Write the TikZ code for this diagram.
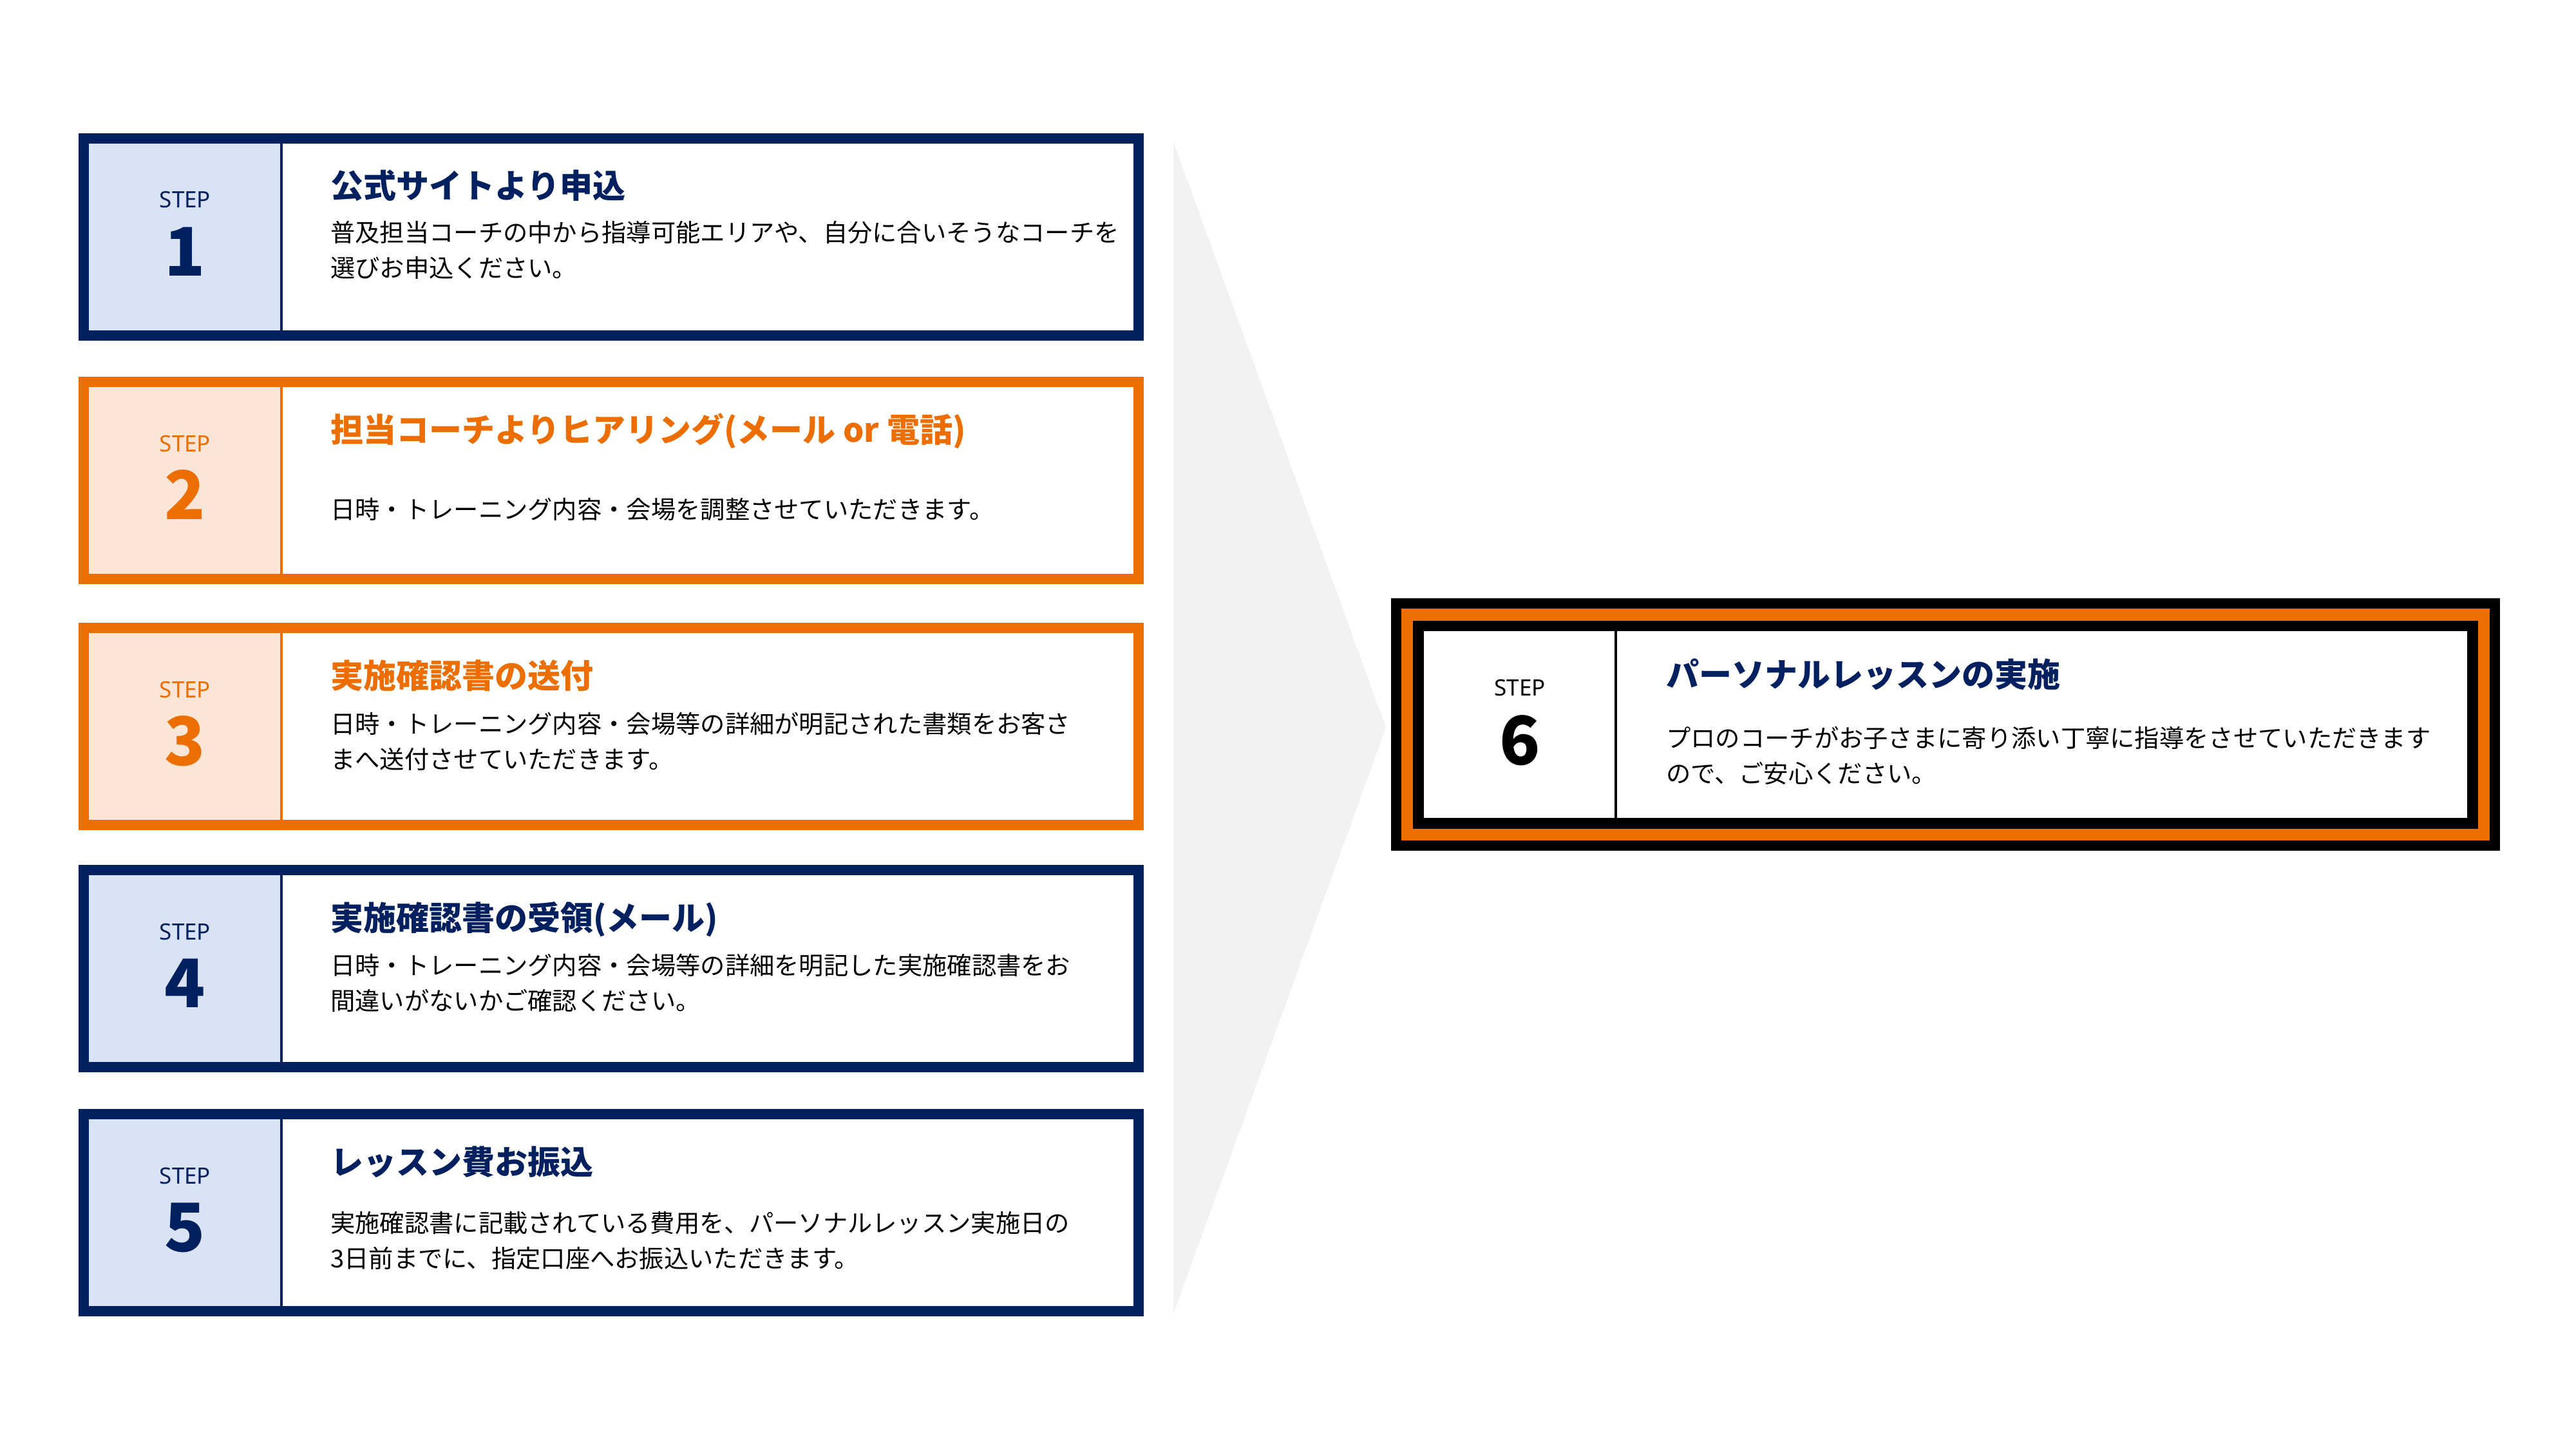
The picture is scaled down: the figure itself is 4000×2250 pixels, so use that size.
\documentclass[tikz,border=0pt]{standalone}
\usepackage{fontspec}
\setmainfont{Noto Sans CJK JP}
\newfontfamily\latinfont{Noto Sans}
\definecolor{navy}{RGB}{0,32,96}
\definecolor{lightblue}{RGB}{218,227,243}
\definecolor{orng}{RGB}{236,110,0}
\definecolor{lightorng}{RGB}{251,229,214}
\definecolor{chevgray}{RGB}{242,242,242}
\tikzset{
  steplbl/.style={font=\latinfont\fontsize{35}{40}\selectfont, inner sep=0pt, anchor=base},
  stepnum/.style={font=\bfseries\fontsize{104}{110}\selectfont, inner sep=0pt, anchor=base},
  ttl/.style={font=\bfseries\fontsize{51}{60}\selectfont, inner sep=0pt, anchor=base west},
  bodytxt/.style={font=\fontsize{38.3}{46}\selectfont, inner sep=0pt, anchor=base west, text=black},
}
% #1 name, #2 top, #3 frame colour, #4 fill colour, #5 number, #6 title, #7 line 1, #8 line 2, #9 first line centre offset
\newcommand\mkstep[9]{%
  \fill[#4] (138,#2+16) rectangle (437,#2+306);
  \draw[#3, line width=16pt] (130,#2+8) rectangle (1768,#2+314);
  \draw[#3, line width=4pt] (437,#2+16) -- (437,#2+306);
  \node[steplbl, text=#3] (#1lbl) at (287.5,#2+116) {STEP};
  \node[stepnum, text=#3] (#1num) at (287.5,#2+221) {#5};
  \node[ttl, text=#3] (#1ttl) at (513,#2+101) {#6};
  \node[bodytxt] (#1la) at (513,#2+#9+15) {#7};
  \node[bodytxt] (#1lb) at (513,#2+#9+70.5) {#8};
}
\begin{document}
\begin{tikzpicture}[x=1pt,y=-1pt]
\useasboundingbox (0,0) rectangle (4000,2250);
\fill[white] (0,0) rectangle (4000,2250);
% chevron
\fill[chevgray] (1822,220) -- (2152,1130) -- (1822,2040) -- cycle;
% steps 1-5
\mkstep{sa}{207}{navy}{lightblue}{1}{公式サイトより申込}{普及担当コーチの中から指導可能エリアや、自分に合いそうなコーチを}{選びお申込ください。}{153}
\mkstep{sb}{585}{orng}{lightorng}{2}{担当コーチよりヒアリング(メール or 電話)}{日時・トレーニング内容・会場を調整させていただきます。}{}{205}
\mkstep{sc}{967}{orng}{lightorng}{3}{実施確認書の送付}{日時・トレーニング内容・会場等の詳細が明記された書類をお客さ}{まへ送付させていただきます。}{156}
\mkstep{sd}{1343}{navy}{lightblue}{4}{実施確認書の受領(メール)}{日時・トレーニング内容・会場等の詳細を明記した実施確認書をお}{間違いがないかご確認ください。}{155}
\mkstep{se}{1722}{navy}{lightblue}{5}{レッスン費お振込}{実施確認書に記載されている費用を、パーソナルレッスン実施日の}{3日前までに、指定口座へお振込いただきます。}{176}
% step 6
\fill[black] (2160,929) rectangle (3882,1321);
\fill[orng] (2176,945) rectangle (3866,1305);
\fill[black] (2194,964) rectangle (3848,1287);
\fill[white] (2211,980) rectangle (3831,1270);
\draw[black, line width=4pt] (2509,980) -- (2509,1270);
\node[steplbl, text=black] (sflbl) at (2360,1080) {STEP};
\node[stepnum, text=black] (sfnum) at (2360,1187) {6};
\node[ttl, text=navy] (sfttl) at (2587,1066) {パーソナルレッスンの実施};
\node[bodytxt] (sfla) at (2587,1160) {プロのコーチがお子さまに寄り添い丁寧に指導をさせていただきます};
\node[bodytxt] (sflb) at (2587,1215.5) {ので、ご安心ください。};
\end{tikzpicture}
\end{document}
